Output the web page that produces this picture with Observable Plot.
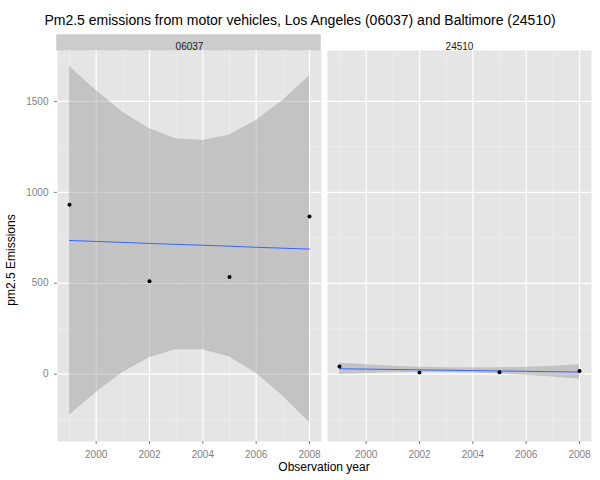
<!DOCTYPE html>
<html>
<head>
<meta charset="utf-8">
<script src="https://cdn.jsdelivr.net/npm/d3@7"></script>
<script src="https://cdn.jsdelivr.net/npm/@observablehq/plot@0.6"></script>
<style>
  body { margin: 0; background: #fff; font-family: "Liberation Sans", Arial, sans-serif; }
  #title { width: 600px; height: 31px; text-align: center; font-size: 14px; line-height: 40px; color: #000; }
</style>
</head>
<body>
<div id="title">Pm2.5 emissions from motor vehicles, Los Angeles (06037) and Baltimore (24510)</div>
<div id="chart"></div>
<script>
const years = [1999, 2002, 2005, 2008]
const laValues = [932, 511, 535, 867]
const baltValues = [42, 10, 11, 18]

// fitted line and confidence band
const bandYears = [1999, 2000, 2001, 2002, 2003, 2004, 2005, 2006, 2007, 2008]
const laFit = [735, 730, 725, 719, 714, 709, 704, 698, 693, 688]
const laUpper = [1692, 1560, 1440, 1350, 1295, 1285, 1315, 1395, 1505, 1640]
const laLower = [-225, -100, 10, 90, 135, 135, 95, 5, -120, -265]
const baltFit = [30, 28, 26, 24, 22, 20, 18, 16, 14, 12]
const baltUpper = [62, 52, 44, 38, 35, 34, 35, 38, 44, 52]
const baltLower = [-2, 4, 8, 10, 9, 6, 1, -6, -16, -28]

const points = [
  ...years.map((yr, i) => ({fips: '06037', year: yr, value: laValues[i]})),
  ...years.map((yr, i) => ({fips: '24510', year: yr, value: baltValues[i]}))
]
const band = [
  ...bandYears.map((yr, i) => ({fips: '06037', year: yr, fit: laFit[i], lo: laLower[i], hi: laUpper[i]})),
  ...bandYears.map((yr, i) => ({fips: '24510', year: yr, fit: baltFit[i], lo: baltLower[i], hi: baltUpper[i]}))
]
const facets = [{fips: '06037'}, {fips: '24510'}]

const chart = Plot.plot({
  width: 600,
  height: 450,
  marginLeft: 56,
  marginRight: 8,
  marginTop: 19,
  marginBottom: 40,
  style: {fontFamily: '"Liberation Sans", Arial, sans-serif', fontSize: '10px'},
  fx: {padding: 0.022, axis: null},
  x: {domain: [1998.55, 2008.45], label: null},
  y: {domain: [-370, 1780], label: null},
  marks: [
    Plot.frame({fill: '#E5E5E5'}),
    Plot.gridX(d3.range(1999, 2009, 2), {stroke: '#F2F2F2', strokeOpacity: 1, strokeWidth: 0.6}),
    Plot.gridY(d3.range(-250, 1800, 500), {stroke: '#F2F2F2', strokeOpacity: 1, strokeWidth: 0.6}),
    Plot.gridX(d3.range(2000, 2009, 2), {stroke: '#fff', strokeOpacity: 1, strokeWidth: 1.2}),
    Plot.gridY(d3.range(0, 1800, 500), {stroke: '#fff', strokeOpacity: 1, strokeWidth: 1.2}),
    Plot.areaY(band, {fx: 'fips', x: 'year', y1: 'lo', y2: 'hi', fill: '#999', fillOpacity: 0.45}),
    Plot.line(band, {fx: 'fips', x: 'year', y: 'fit', stroke: '#3366FF', strokeWidth: 1}),
    Plot.dot(points, {fx: 'fips', x: 'year', y: 'value', r: 2, fill: '#000'}),
    Plot.axisX(d3.range(2000, 2009, 2), {tickFormat: d => String(d), tickSize: 3, stroke: '#7F7F7F', fill: '#7F7F7F', fontSize: 10, label: null}),
    Plot.axisY(d3.range(0, 1800, 500), {tickFormat: d => String(d), tickSize: 3, stroke: '#7F7F7F', fill: '#7F7F7F', fontSize: 10, label: null}),
    Plot.text(facets, {fx: 'fips', text: 'fips', frameAnchor: 'top', dy: -8, fontSize: 10, fill: '#1A1A1A'})
  ]
})

// grey strips above each panel
d3.select(chart).selectAll('g[aria-label="frame"] rect').each(function () {
  const r = d3.select(this)
  const y = +r.attr('y')
  d3.select(this.parentNode).insert('rect', ':first-child')
    .attr('x', r.attr('x')).attr('width', r.attr('width'))
    .attr('y', y - 16).attr('height', 16).attr('fill', '#CCCCCC')
})

const svg = d3.select(chart)
svg.append('text').attr('x', 324).attr('y', 440).attr('text-anchor', 'middle')
  .attr('font-size', 12).text('Observation year')
svg.append('text').attr('transform', 'translate(15,229) rotate(-90)').attr('text-anchor', 'middle')
  .attr('font-size', 12).text('pm2.5 Emissions')

d3.select('#chart').append(() => chart)
</script>
</body>
</html>
